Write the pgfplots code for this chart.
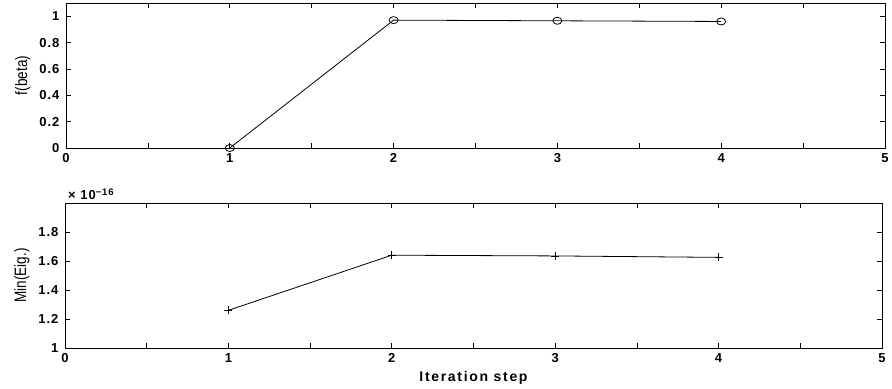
\documentclass[border=0pt]{standalone}
\usepackage{pgfplots}
\pgfplotsset{compat=1.18}
\usepackage{fontspec}
\setmainfont{Liberation Sans}
\newfontfamily\tickfont[LetterSpace=8]{Liberation Sans}
\newfontfamily\xlabfont[LetterSpace=12]{Liberation Sans}
\newfontfamily\labelfont[FakeStretch=0.82]{Liberation Sans}
\begin{document}
\begin{tikzpicture}
\path (0pt,0pt) rectangle (892pt,387pt);
\pgfplotsset{
  every axis/.append style={
    scale only axis,
    clip=false,
    xmin=0, xmax=5,
    xtick={0,0.5,...,5},
    xticklabels={0,,1,,2,,3,,4,,5},
    tick align=inside,
    major tick length=5pt,
    tick style={black, line width=0.8pt},
    axis line style={line width=0.8pt},
    tick label style={font=\tickfont\bfseries\fontsize{13}{15}\selectfont},
    xticklabel style={yshift=-2pt},
    yticklabel style={xshift=-3pt},
    ylabel style={font=\labelfont\fontsize{16.5}{18}\selectfont, yshift=2pt},
    xlabel style={font=\xlabfont\bfseries\fontsize{14}{16}\selectfont},
    /pgf/number format/assume math mode=true,
    every axis plot/.append style={black, line width=0.8pt},
  }
}
% upper panel: f(beta)
\begin{axis}[
  at={(66pt,239pt)}, anchor=south west,
  width=819pt, height=145pt,
  ymin=0, ymax=1.1,
  ytick={0,0.2,...,1},
  yticklabels={0,0.2,0.4,0.6,0.8,1},
  ylabel={f(beta)},
]
\addplot[mark=o, mark size=3.5pt, mark options={xscale=1.3}] coordinates {
  (1,0) (2,0.97) (3,0.965) (4,0.96)
};
\end{axis}
% lower panel: smallest eigenvalue
\begin{axis}[
  at={(65pt,39pt)}, anchor=south west,
  width=817pt, height=145pt,
  ymin=1, ymax=2,
  ytick={1,1.2,...,1.8},
  yticklabels={1,1.2,1.4,1.6,1.8},
  ylabel={Min(Eig.)},
  xlabel={Iteration step},
  xlabel style={yshift=-2pt},
]
\addplot[mark=+, mark size=4pt] coordinates {
  (1,1.26) (2,1.64) (3,1.635) (4,1.625)
};
% common scale factor of the lower panel
\node[anchor=south west, font=\tickfont\bfseries\fontsize{13}{15}\selectfont, inner sep=1pt]
  at ([xshift=2pt,yshift=2pt]rel axis cs:0,1) {× 10\raisebox{0.55ex}{\fontsize{9.5}{11}\selectfont −16}};
\end{axis}
\end{tikzpicture}
\end{document}
